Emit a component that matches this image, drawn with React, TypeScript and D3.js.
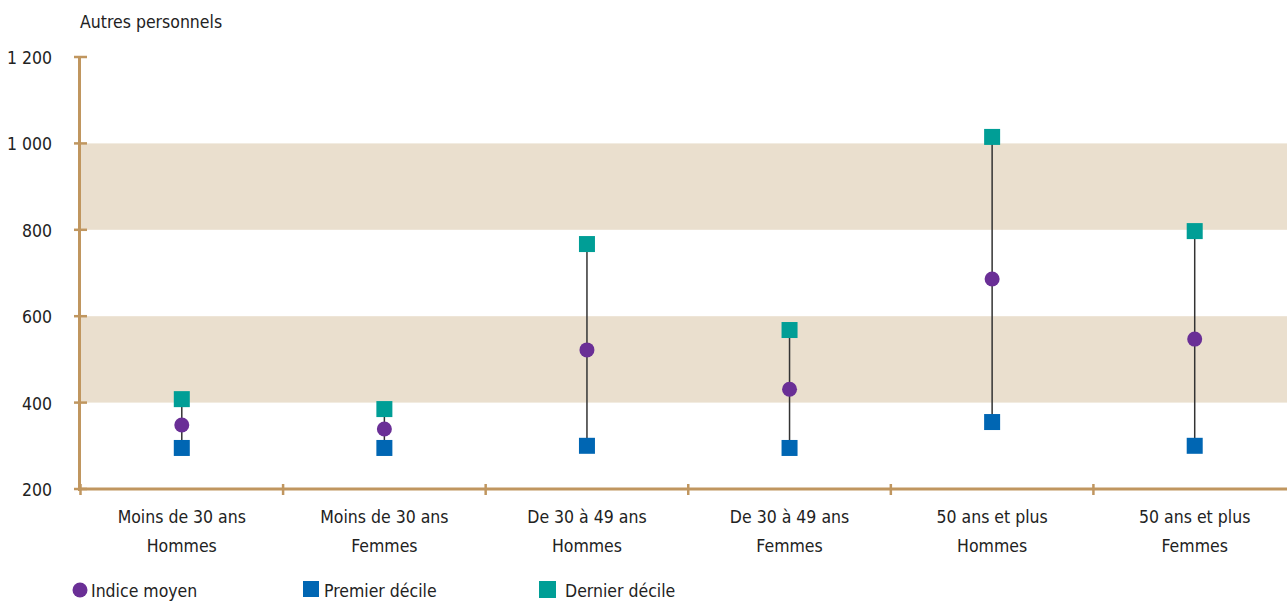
import React from "react";
import * as d3 from "d3";

const categories = [
  ["Moins de 30 ans", "Hommes"],
  ["Moins de 30 ans", "Femmes"],
  ["De 30 à 49 ans", "Hommes"],
  ["De 30 à 49 ans", "Femmes"],
  ["50 ans et plus", "Hommes"],
  ["50 ans et plus", "Femmes"],
];
const indiceMoyen = [348, 339, 522, 431, 686, 547];
const premierDecile = [295, 295, 300, 295, 355, 300];
const dernierDecile = [408, 385, 767, 568, 1015, 797];
const yTicks = [200, 400, 600, 800, 1000, 1200];
const bands = [[400, 600], [800, 1000]];

const W = 1287, H = 601;
const FONT = "'DejaVu Sans Condensed', 'Liberation Sans Narrow', 'Roboto', sans-serif";
const FS = 17.5;
const AXIS = "#c0965f";
const BAND = "#eadfce";
const PURPLE = "#6a2f96";
const BLUE = "#0066b3";
const TEAL = "#009e96";

const fmt = (v: number) => (v >= 1000 ? `${Math.floor(v / 1000)} ${String(v % 1000).padStart(3, "0")}` : String(v));

export default function App() {
  const y = d3.scaleLinear().domain([200, 1200]).range([489, 57]);
  const x = d3.scaleBand<number>().domain(d3.range(6)).range([80.5, 1296]);
  const cx = (i: number) => (x(i) as number) + x.bandwidth() / 2;
  const sq = 16;
  return (
    <svg width={W} height={H} style={{ position: "absolute", left: 0, top: 0, fontFamily: FONT }}>
      {bands.map(([a, b], i) => (
        <rect key={i} x={80} y={y(b)} width={W - 80} height={y(a) - y(b)} fill={BAND} />
      ))}
      <text x={80} y={28} fontSize={FS} fill="#222">Autres personnels</text>
      {/* y axis */}
      <line x1={79.5} x2={79.5} y1={y(1200)} y2={y(200) + 2} stroke={AXIS} strokeWidth={3} />
      {yTicks.map((t) => (
        <g key={t}>
          <line x1={74} x2={87} y1={y(t)} y2={y(t)} stroke={AXIS} strokeWidth={2.5} />
          <text x={52} y={y(t) + 7} textAnchor="end" fontSize={FS} fill="#222">{fmt(t)}</text>
        </g>
      ))}
      {/* x axis */}
      <line x1={78} x2={W} y1={y(200)} y2={y(200)} stroke={AXIS} strokeWidth={3} />
      {d3.range(7).map((i) => {
        const xx = i === 6 ? 1296 : (x(i) as number);
        return <line key={i} x1={xx} x2={xx} y1={y(200) - 5} y2={y(200) + 6} stroke={AXIS} strokeWidth={2.5} />;
      })}
      {categories.map((c, i) => (
        <text key={i} x={cx(i)} textAnchor="middle" fontSize={FS} fill="#222">
          <tspan x={cx(i)} y={523}>{c[0]}</tspan>
          <tspan x={cx(i)} y={552}>{c[1]}</tspan>
        </text>
      ))}
      {/* ranges */}
      {categories.map((_, i) => (
        <line key={i} x1={cx(i)} x2={cx(i)} y1={y(dernierDecile[i])} y2={y(premierDecile[i])} stroke="#333" strokeWidth={1.5} />
      ))}
      {premierDecile.map((v, i) => (
        <rect key={i} x={cx(i) - sq / 2} y={y(v) - sq / 2} width={sq} height={sq} fill={BLUE} />
      ))}
      {dernierDecile.map((v, i) => (
        <rect key={i} x={cx(i) - sq / 2} y={y(v) - sq / 2} width={sq} height={sq} fill={TEAL} />
      ))}
      {indiceMoyen.map((v, i) => (
        <circle key={i} cx={cx(i)} cy={y(v)} r={7.5} fill={PURPLE} />
      ))}
      {/* legend */}
      <circle cx={80} cy={590} r={7.5} fill={PURPLE} />
      <text x={91} y={597} fontSize={FS} fill="#222">Indice moyen</text>
      <rect x={303} y={581} width={16} height={16} fill={BLUE} />
      <text x={324} y={597} fontSize={FS} fill="#222">Premier décile</text>
      <rect x={539} y={581} width={17} height={17} fill={TEAL} />
      <text x={565} y={597} fontSize={FS} fill="#222">Dernier décile</text>
    </svg>
  );
}
